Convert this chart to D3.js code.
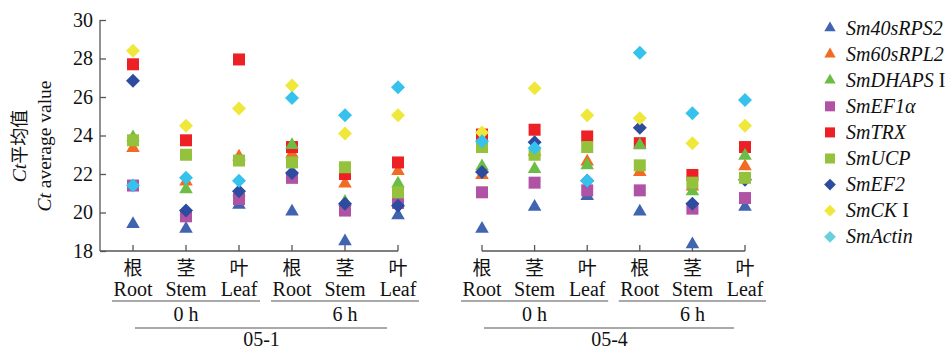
<!DOCTYPE html>
<html>
<head>
<meta charset="utf-8">
<title>Ct average value</title>
<script src="https://cdnjs.cloudflare.com/ajax/libs/d3/7.8.5/d3.min.js"></script>
<style>
body { margin: 0; background: #fff; }
</style>
</head>
<body>
<svg id="chart" width="951" height="349"></svg>
<script>
// categories (two panels of six)
var organsZh = ["根", "茎", "叶", "根", "茎", "叶"];
var organsEn = ["Root", "Stem", "Leaf", "Root", "Stem", "Leaf"];
var times = ["0 h", "6 h"];
var lines = ["05-1", "05-4"];
var yTicks = [18, 20, 22, 24, 26, 28, 30];

// series names, shown as gene name (italic) + optional upright suffix
var seriesNames = ["Sm40sRPS2", "Sm60sRPL2", "SmDHAPS", "SmEF1α", "SmTRX", "SmUCP", "SmEF2", "SmCK", "SmActin"];
var seriesSuffix = ["", "", " I", "", "", "", "", " I", ""];
var seriesShape = ["tri", "tri", "tri", "sq", "sq", "sq", "dia", "dia", "dia"];
var seriesColor = ["#4064b0", "#f26b22", "#6cbd45", "#b153a4", "#ed2125", "#95c23d", "#2d4b9f", "#efe83a", "#35c3ee"];
var legendColor = ["#4064b0", "#f26b22", "#6cbd45", "#b153a4", "#ed2125", "#95c23d", "#2d4b9f", "#efe83a", "#6acfdc"];

// Ct values, 12 samples each: 05-1 (0h root/stem/leaf, 6h root/stem/leaf), then 05-4
var v40sRPS2 = [19.4, 19.15, 20.4, 20.05, 18.5, 19.85, 19.15, 20.3, 20.85, 20.05, 18.35, 20.3];
var v60sRPL2 = [23.35, 21.6, 22.9, 23.05, 21.5, 22.15, 21.95, 23.15, 22.65, 22.1, 21.35, 22.4];
var vDHAPS = [23.9, 21.2, 21.05, 23.5, 20.55, 21.5, 22.4, 22.25, 22.45, 23.5, 21.1, 22.95];
var vEF1a = [21.4, 19.8, 20.7, 21.8, 20.1, 20.5, 21.05, 21.55, 21.15, 21.15, 20.2, 20.75];
var vTRX = [27.7, 23.75, 27.95, 23.4, 22.0, 22.6, 24.05, 24.3, 23.95, 23.6, 21.95, 23.4];
var vUCP = [23.75, 23.0, 22.7, 22.6, 22.35, 21.05, 23.4, 23.0, 23.4, 22.45, 21.55, 21.8];
var vEF2 = [26.85, 20.1, 21.1, 22.05, 20.45, 20.35, 22.1, 23.65, 21.65, 24.4, 20.45, 21.7];
var vCK = [28.4, 24.5, 25.4, 26.6, 24.1, 25.05, 24.15, 26.45, 25.05, 24.9, 23.6, 24.5];
var vActin = [21.4, 21.8, 21.65, 25.95, 25.05, 26.5, 23.7, 23.35, 21.65, 28.3, 25.15, 25.85];
var seriesValues = [v40sRPS2, v60sRPL2, vDHAPS, vEF1a, vTRX, vUCP, vEF2, vCK, vActin];

// drawing order (which marks sit on top)
var drawOrder = [0, 1, 4, 2, 3, 6, 5, 7, 8];

var SERIF = "'Liberation Serif', 'Times New Roman', serif";
var CJK = "'Noto Sans CJK SC', sans-serif";

var svg = d3.select("#chart");
var axisColor = "#555";

var y = d3.scaleLinear().domain([18, 30]).range([251, 20]);

var idx = d3.range(6);
var xPanels = [
    d3.scalePoint().domain(idx).range([133, 398]),
    d3.scalePoint().domain(idx).range([482, 745])
];

// y axis, ticks point inward
var yAxis = svg.append("g")
    .attr("transform", "translate(100,0)")
    .call(d3.axisLeft(y).tickValues(yTicks).tickSize(0).tickPadding(7).tickFormat(d3.format("d")));
yAxis.select(".domain").remove();
yAxis.selectAll(".tick line").attr("x2", 6).attr("stroke", axisColor).attr("stroke-width", 1.3);
yAxis.selectAll("text")
    .style("font-size", "20px").style("font-family", SERIF).attr("fill", "#111");
svg.append("line")
    .attr("x1", 100).attr("x2", 100).attr("y1", y(30)).attr("y2", y(18))
    .attr("stroke", axisColor).attr("stroke-width", 1.3);

// y title
var yt = svg.append("g").attr("transform", "translate(26,146) rotate(-90)");
var t1 = yt.append("text").attr("text-anchor", "middle")
    .style("font-family", SERIF).style("font-size", "19.5px").attr("fill", "#111");
t1.append("tspan").style("font-family", SERIF).style("font-style", "italic").text("Ct");
t1.append("tspan").style("font-family", CJK).style("font-size", "18px").text("平均值");
var t2 = yt.append("text").attr("text-anchor", "middle").attr("y", 25)
    .style("font-family", SERIF).style("font-size", "19.5px").attr("fill", "#111");
t2.append("tspan").style("font-family", SERIF).style("font-style", "italic").text("Ct");
t2.append("tspan").style("font-family", SERIF).text(" average value");

// x axes per panel
xPanels.forEach(function (x, p) {
    var r = x.range();
    var x0 = p === 0 ? 100 : r[0];
    svg.append("line")
        .attr("x1", x0).attr("x2", r[1]).attr("y1", 251).attr("y2", 251)
        .attr("stroke", axisColor).attr("stroke-width", 1.3);
    var g = svg.append("g").attr("fill", "#111");
    g.selectAll("line.tk").data(idx).enter().append("line")
        .attr("x1", function (d) { return x(d); }).attr("x2", function (d) { return x(d); })
        .attr("y1", 251).attr("y2", 245)
        .attr("stroke", axisColor).attr("stroke-width", 1.3);
    g.selectAll("text.zh").data(idx).enter().append("text")
        .attr("x", function (d) { return x(d); }).attr("y", 275)
        .attr("text-anchor", "middle")
        .style("font-family", CJK).style("font-size", "19px")
        .text(function (d) { return organsZh[d]; });
    g.selectAll("text.en").data(idx).enter().append("text")
        .attr("x", function (d) { return x(d); }).attr("y", 296)
        .attr("text-anchor", "middle").style("font-family", SERIF).style("font-size", "20px")
        .text(function (d) { return organsEn[d]; });
    // time groups
    [0, 1].forEach(function (t) {
        var a = x(t * 3), b = x(t * 3 + 2);
        g.append("line")
            .attr("x1", a - 21).attr("x2", b + 21).attr("y1", 301).attr("y2", 301)
            .attr("stroke", axisColor).attr("stroke-width", 1.2);
        g.append("text")
            .attr("x", x(t * 3 + 1)).attr("y", 321)
            .attr("text-anchor", "middle").style("font-family", SERIF).style("font-size", "20px")
            .text(times[t]);
    });
    g.append("line")
        .attr("x1", x(0) + 2).attr("x2", x(5) - 11).attr("y1", 328).attr("y2", 328)
        .attr("stroke", axisColor).attr("stroke-width", 1.2);
    g.append("text")
        .attr("x", (x(0) + x(5)) / 2 - 4).attr("y", 346)
        .attr("text-anchor", "middle").style("font-family", SERIF).style("font-size", "20px")
        .text(lines[p]);
});

function symbolFor(shape, scale) {
    if (shape === "tri") return d3.symbol().type(d3.symbolTriangle).size(80 * scale)();
    if (shape === "sq") return d3.symbol().type(d3.symbolSquare).size(144 * scale)();
    return d3.symbol().type(d3.symbolSquare).size(98 * scale)();
}
function rot(shape) { return shape === "dia" ? " rotate(45)" : ""; }

// points
drawOrder.forEach(function (s) {
    var vals = seriesValues[s];
    svg.append("g").selectAll("path").data(vals).enter().append("path")
        .attr("d", symbolFor(seriesShape[s], 1))
        .attr("transform", function (d, i) {
            var x = xPanels[Math.floor(i / 6)];
            return "translate(" + x(i % 6) + "," + y(d) + ")" + rot(seriesShape[s]);
        })
        .attr("fill", seriesColor[s]);
});

// legend
var lg = svg.append("g").attr("transform", "translate(830,28)");
var rows = lg.selectAll("g").data(d3.range(seriesNames.length)).enter().append("g")
    .attr("transform", function (d) { return "translate(0," + d * 26.1 + ")"; });
rows.append("path")
    .attr("d", function (d) { return symbolFor(seriesShape[d], 0.7); })
    .attr("transform", function (d) { return rot(seriesShape[d]); })
    .attr("fill", function (d) { return legendColor[d]; });
var lt = rows.append("text").attr("x", 16).attr("y", 6.5)
    .style("font-family", SERIF).style("font-size", "20px").attr("fill", "#111");
lt.append("tspan").style("font-family", SERIF).style("font-style", "italic")
    .text(function (d) { return seriesNames[d]; });
lt.append("tspan").style("font-family", SERIF)
    .text(function (d) { return seriesSuffix[d]; });
</script>
</body>
</html>
